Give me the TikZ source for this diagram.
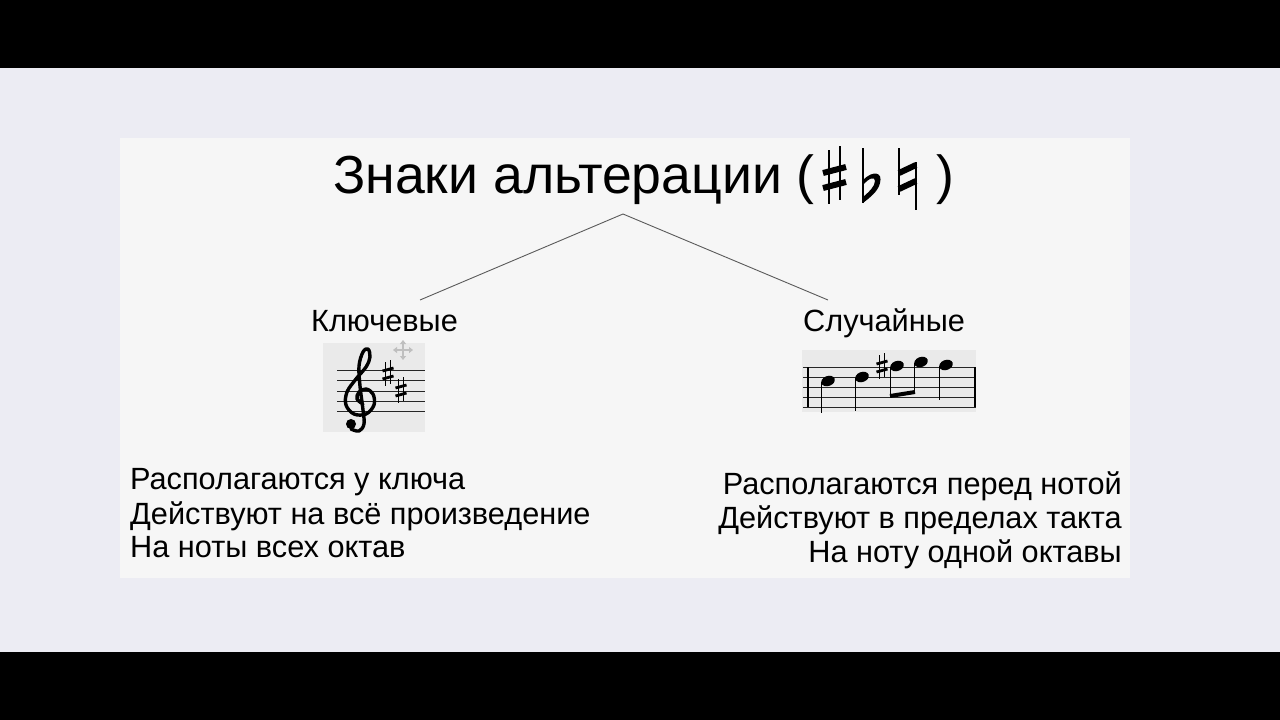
\documentclass[tikz,border=0pt]{standalone}
\usepackage{fontspec}
\setmainfont{Liberation Sans}
\usetikzlibrary{arrows.meta}
\definecolor{bgout}{RGB}{236,236,243}
\definecolor{panel}{RGB}{246,246,246}
\definecolor{imgbg}{RGB}{234,234,234}
\definecolor{conn}{RGB}{90,90,90}
\tikzset{
  body/.style={inner sep=0pt, font=\fontsize{30.7}{34}\selectfont},
  label/.style={inner sep=0pt, font=\fontsize{30.7}{34}\selectfont},
  titletext/.style={inner sep=0pt, font=\fontsize{53.6}{60}\selectfont},
  connector/.style={draw=conn, line width=0.9pt},
  staffline/.style={draw=black!85, line width=0.9pt},
  sharpsym/.pic={
    \draw[line width=1pt] (-2.5,-11) -- (-2.5,13) (2.5,-13) -- (2.5,11);
    \draw[line width=2.8pt] (-5.5,-2) -- (5.5,-5) (-5.5,6) -- (5.5,3);
  },
  notehd/.pic={
    \fill[rotate=20] (0,0) ellipse (7 and 5);
  },
  movearrow/.style={gray!50, line width=1.6pt, {Triangle[length=4pt,width=6pt]}-{Triangle[length=4pt,width=6pt]}}
}
\begin{document}
\begin{tikzpicture}[x=1pt,y=-1pt]
\useasboundingbox (0,0) rectangle (1280,720);
\fill[black] (0,0) rectangle (1280,68);
\fill[bgout] (0,68) rectangle (1280,652);
\fill[black] (0,652) rectangle (1280,720);
\fill[panel] (120,138) rectangle (1130,578);

% title
\node[titletext, anchor=base west] (title) at (333,193) {Знаки альтерации (};
% sharp
\draw[line width=1.6pt] (829,150) -- (829,204) (840,146) -- (840,200);
\draw[line width=6pt] (823,173) -- (846,167) (823,188) -- (846,182);
% flat
\draw[line width=1.6pt] (863,148) -- (863,203);
\fill (863,180) .. controls (873,170) and (883,172) .. (880,183) .. controls (878,192) and (869,198) .. (863,203) -- (863,197) .. controls (869,192) and (875,186) .. (875,181) .. controls (875,176) and (869,178) .. (863,185) -- cycle;
% natural
\draw[line width=1.6pt] (899,148) -- (899,195) (916,162) -- (916,210);
\draw[line width=6pt] (899,173) -- (916,165) (899,189) -- (916,181);
\node[titletext, anchor=base west] (rparen) at (936,193) {)};

% connectors
\coordinate (apex) at (623,214);
\coordinate (lend) at (420,300);
\coordinate (rend) at (828,300);
\draw[connector] (apex) -- (lend);
\draw[connector] (apex) -- (rend);

% labels
\node[label, anchor=base west] (key) at (311,331) {Ключевые};
\node[label, anchor=base west] (acc) at (803,331) {Случайные};

% left image
\fill[imgbg] (323,343) rectangle (425,432);
\foreach \yy in {370,380,391,401,411} \draw[staffline] (337,\yy) -- (425,\yy);
% treble clef
\draw[line width=3.4pt, line cap=round, line join=round]
  plot[smooth, tension=0.6] coordinates {(363,404) (357,399) (359,392) (366,389) (373,394) (374,405) (366,414) (354,414) (346,405) (347,392) (356,379) (366,367) (370,357) (368,349) (363,352) (359,366) (360,386) (363,410) (364,424) (359,431) (351,429)};
\fill (351,424) circle (5);
\pic at (388,373) {sharpsym};
\pic at (401,390) {sharpsym};
% move icon
\draw[movearrow] (393,350) -- (413,350);
\draw[movearrow] (403,340) -- (403,360);

% right image
\fill[imgbg] (802,350) rectangle (976,412);
\foreach \yy in {367,377,387,397,407} \draw[staffline] (803,\yy) -- (976,\yy);
\draw[line width=2.5pt] (808,367) -- (808,407);
\draw[line width=1.2pt] (975,367) -- (975,407);
\pic at (828,381) {notehd};
\draw[line width=1.1pt] (821.5,382) -- (821.5,413);
\pic at (862,377) {notehd};
\draw[line width=1.1pt] (855.5,378) -- (855.5,411);
\pic at (882,366) {sharpsym};
\pic at (897,366) {notehd};
\draw[line width=1.1pt] (890.5,367) -- (890.5,397);
\pic at (921,362) {notehd};
\draw[line width=1.1pt] (914.5,363) -- (914.5,393);
\draw[line width=4pt] (890,396) -- (915,392);
\pic at (946,365) {notehd};
\draw[line width=1.1pt] (939.5,366) -- (939.5,400);

% left text
\node[body, anchor=base west] (l1) at (130,489) {Располагаются у ключа};
\node[body, anchor=base west] (l2) at (130,524) {Действуют на всё произведение};
\node[body, anchor=base west] (l3) at (130,557) {На ноты всех октав};
% right text
\node[body, anchor=base east] (r1) at (1122,494) {Располагаются перед нотой};
\node[body, anchor=base east] (r2) at (1122,528) {Действуют в пределах такта};
\node[body, anchor=base east] (r3) at (1122,562) {На ноту одной октавы};
\end{tikzpicture}
\end{document}
